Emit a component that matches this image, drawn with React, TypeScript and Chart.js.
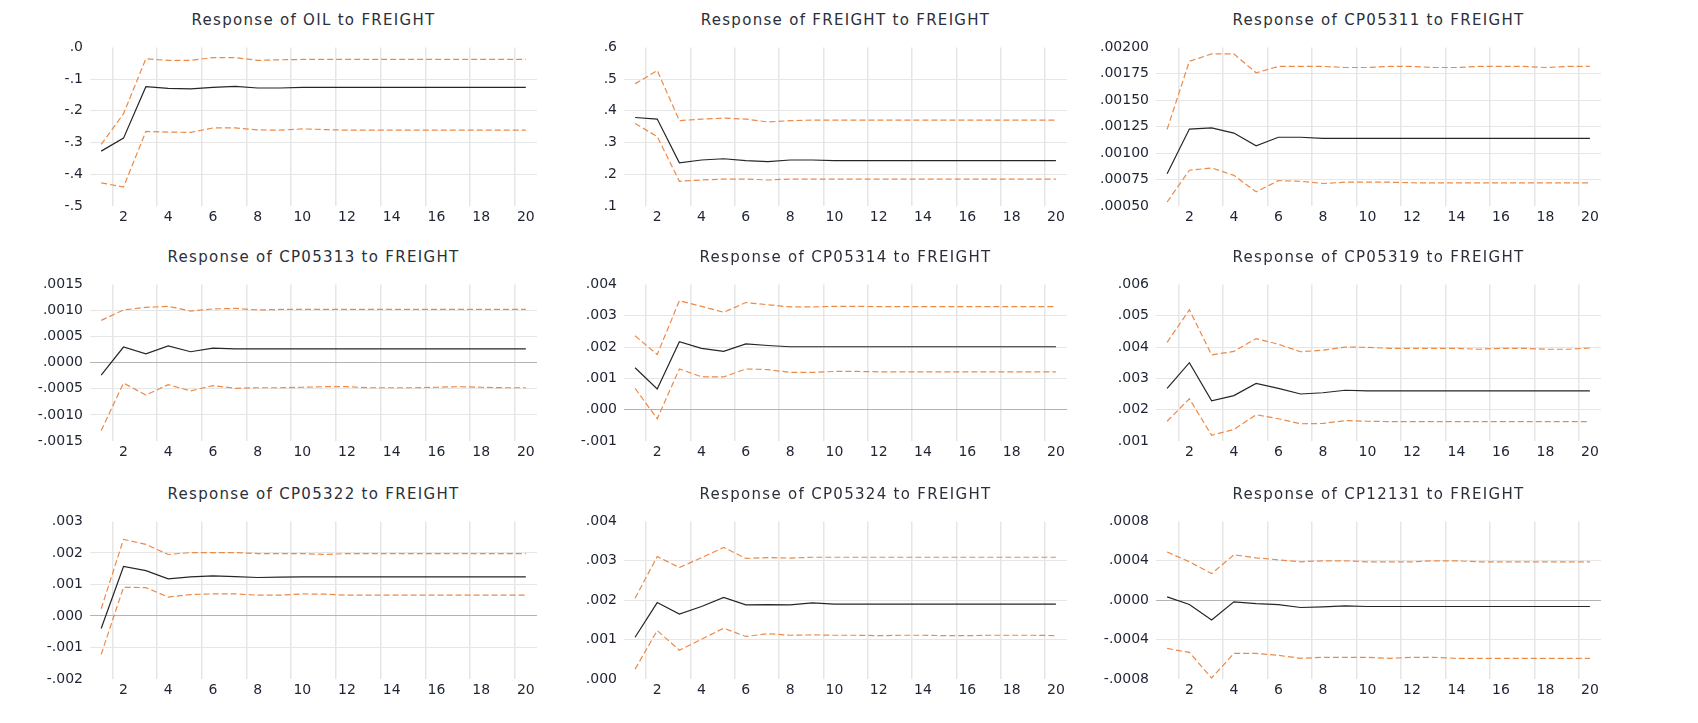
import React, { useEffect, useRef } from 'react';
import { Chart, registerables } from 'chart.js';
Chart.register(...registerables);

// ---------- data ----------
const periods = ['1','2','3','4','5','6','7','8','9','10','11','12','13','14','15','16','17','18','19','20'];

const titles = [
  'Response of OIL to FREIGHT',
  'Response of FREIGHT to FREIGHT',
  'Response of CP05311 to FREIGHT',
  'Response of CP05313 to FREIGHT',
  'Response of CP05314 to FREIGHT',
  'Response of CP05319 to FREIGHT',
  'Response of CP05322 to FREIGHT',
  'Response of CP05324 to FREIGHT',
  'Response of CP12131 to FREIGHT',
];

// y tick labels (top to bottom)
const oilTicks = ['.0', '-.1', '-.2', '-.3', '-.4', '-.5'];
const freightTicks = ['.6', '.5', '.4', '.3', '.2', '.1'];
const cp05311Ticks = ['.00200', '.00175', '.00150', '.00125', '.00100', '.00075', '.00050'];
const cp05313Ticks = ['.0015', '.0010', '.0005', '.0000', '-.0005', '-.0010', '-.0015'];
const cp05314Ticks = ['.004', '.003', '.002', '.001', '.000', '-.001'];
const cp05319Ticks = ['.006', '.005', '.004', '.003', '.002', '.001'];
const cp05322Ticks = ['.003', '.002', '.001', '.000', '-.001', '-.002'];
const cp05324Ticks = ['.004', '.003', '.002', '.001', '.000'];
const cp12131Ticks = ['.0008', '.0004', '.0000', '-.0004', '-.0008'];

// series: response (mid), upper band (up), lower band (lo)
const oilMid = [-0.327, -0.286, -0.124, -0.129, -0.131, -0.126, -0.123, -0.128, -0.128, -0.126, -0.126, -0.126, -0.126, -0.126, -0.126, -0.126, -0.126, -0.126, -0.126, -0.126];
const oilUp = [-0.306, -0.209, -0.036, -0.041, -0.041, -0.032, -0.032, -0.041, -0.039, -0.038, -0.038, -0.038, -0.038, -0.038, -0.038, -0.038, -0.038, -0.038, -0.038, -0.038];
const oilLo = [-0.427, -0.440, -0.265, -0.267, -0.268, -0.254, -0.254, -0.260, -0.261, -0.257, -0.259, -0.261, -0.261, -0.261, -0.261, -0.261, -0.261, -0.261, -0.261, -0.261];

const freightMid = [0.379, 0.374, 0.236, 0.245, 0.249, 0.243, 0.240, 0.245, 0.245, 0.243, 0.243, 0.243, 0.243, 0.243, 0.243, 0.243, 0.243, 0.243, 0.243, 0.243];
const freightUp = [0.485, 0.527, 0.369, 0.374, 0.377, 0.374, 0.365, 0.369, 0.371, 0.371, 0.371, 0.371, 0.371, 0.371, 0.371, 0.371, 0.371, 0.371, 0.371, 0.371];
const freightLo = [0.360, 0.319, 0.178, 0.182, 0.185, 0.185, 0.182, 0.185, 0.185, 0.185, 0.185, 0.185, 0.185, 0.185, 0.185, 0.185, 0.185, 0.185, 0.185, 0.185];

const cp05311Mid = [0.000806, 0.001228, 0.001238, 0.00119, 0.001069, 0.00115, 0.00115, 0.00114, 0.00114, 0.00114, 0.00114, 0.00114, 0.00114, 0.00114, 0.00114, 0.00114, 0.00114, 0.00114, 0.00114, 0.00114];
const cp05311Up = [0.001225, 0.001869, 0.001938, 0.001938, 0.00176, 0.00182, 0.00182, 0.00182, 0.00181, 0.00181, 0.00182, 0.00182, 0.00181, 0.00181, 0.00182, 0.00182, 0.00182, 0.00181, 0.00182, 0.00182];
const cp05311Lo = [0.000538, 0.000838, 0.00086, 0.00079, 0.000634, 0.00074, 0.000734, 0.000713, 0.000725, 0.000725, 0.000725, 0.00072, 0.000718, 0.000718, 0.000718, 0.000718, 0.000718, 0.000718, 0.000718, 0.000718];

const cp05313Mid = [-0.00024, 0.0003, 0.00017, 0.00032, 0.00021, 0.00028, 0.000266, 0.000266, 0.000266, 0.000266, 0.000266, 0.000266, 0.000266, 0.000266, 0.000266, 0.000266, 0.000266, 0.000266, 0.000266, 0.000266];
const cp05313Up = [0.00081, 0.00101, 0.00106, 0.00108, 0.00099, 0.00103, 0.00104, 0.00101, 0.00102, 0.00102, 0.00102, 0.00102, 0.00102, 0.00102, 0.00102, 0.00102, 0.00102, 0.00102, 0.00102, 0.00102];
const cp05313Lo = [-0.0013, -0.00039, -0.00062, -0.00042, -0.00054, -0.00044, -0.00049, -0.00048, -0.00048, -0.00047, -0.00046, -0.00046, -0.00048, -0.00048, -0.00048, -0.00047, -0.00046, -0.00047, -0.00048, -0.00048];

const cp05314Mid = [0.00134, 0.00066, 0.00217, 0.00196, 0.00186, 0.0021, 0.00205, 0.00201, 0.00201, 0.00201, 0.00201, 0.00201, 0.00201, 0.00201, 0.00201, 0.00201, 0.00201, 0.00201, 0.00201, 0.00201];
const cp05314Up = [0.00236, 0.00176, 0.00348, 0.0033, 0.00311, 0.00342, 0.00335, 0.00328, 0.00328, 0.0033, 0.0033, 0.00329, 0.00329, 0.00329, 0.00329, 0.00329, 0.00329, 0.00329, 0.00329, 0.00329];
const cp05314Lo = [0.00068, -0.00029, 0.0013, 0.00105, 0.00105, 0.0013, 0.00128, 0.00119, 0.00119, 0.00122, 0.00122, 0.00121, 0.00121, 0.00121, 0.00121, 0.00121, 0.00121, 0.00121, 0.00121, 0.00121];

const cp05319Mid = [0.00268, 0.0035, 0.00228, 0.00245, 0.00284, 0.00268, 0.0025, 0.00254, 0.00262, 0.0026, 0.0026, 0.0026, 0.0026, 0.0026, 0.0026, 0.0026, 0.0026, 0.0026, 0.0026, 0.0026];
const cp05319Up = [0.00415, 0.00519, 0.00375, 0.00386, 0.00427, 0.00409, 0.00385, 0.0039, 0.004, 0.00399, 0.00396, 0.00396, 0.00396, 0.00396, 0.00393, 0.00396, 0.00396, 0.00393, 0.00393, 0.00397];
const cp05319Lo = [0.00163, 0.00235, 0.00118, 0.00137, 0.00184, 0.00171, 0.00155, 0.00156, 0.00165, 0.00163, 0.00162, 0.00162, 0.00162, 0.00162, 0.00162, 0.00162, 0.00162, 0.00162, 0.00162, 0.00162];

const cp05322Mid = [-0.0004, 0.00157, 0.00144, 0.00118, 0.00124, 0.00127, 0.00125, 0.00122, 0.00123, 0.00124, 0.00124, 0.00124, 0.00124, 0.00124, 0.00124, 0.00124, 0.00124, 0.00124, 0.00124, 0.00124];
const cp05322Up = [0.00023, 0.00243, 0.00227, 0.00195, 0.00201, 0.00201, 0.00201, 0.00198, 0.00198, 0.00198, 0.00195, 0.00198, 0.00198, 0.00198, 0.00198, 0.00198, 0.00198, 0.00198, 0.00198, 0.00198];
const cp05322Lo = [-0.00122, 0.00091, 0.0009, 0.0006, 0.00068, 0.0007, 0.0007, 0.00066, 0.00066, 0.0007, 0.00069, 0.00066, 0.00066, 0.00066, 0.00066, 0.00066, 0.00066, 0.00066, 0.00066, 0.00066];

const cp05324Mid = [0.00106, 0.00194, 0.00165, 0.00184, 0.00207, 0.00188, 0.00189, 0.00188, 0.00193, 0.0019, 0.0019, 0.0019, 0.0019, 0.0019, 0.0019, 0.0019, 0.0019, 0.0019, 0.0019, 0.0019];
const cp05324Up = [0.00205, 0.00311, 0.00283, 0.00308, 0.00334, 0.00306, 0.00308, 0.00307, 0.00309, 0.00309, 0.00309, 0.00309, 0.00309, 0.00309, 0.00309, 0.00309, 0.00309, 0.00309, 0.00309, 0.00309];
const cp05324Lo = [0.00025, 0.00123, 0.00073, 0.00101, 0.00129, 0.00108, 0.00115, 0.00111, 0.00112, 0.00111, 0.00111, 0.0011, 0.00111, 0.00111, 0.0011, 0.0011, 0.00111, 0.00111, 0.00111, 0.0011];

const cp12131Mid = [0.000034, -0.000044, -0.0002, -0.000017, -0.000034, -0.000044, -0.000074, -0.000067, -0.000057, -0.000064, -0.000064, -0.000064, -0.000064, -0.000064, -0.000064, -0.000064, -0.000064, -0.000064, -0.000064, -0.000064];
const cp12131Up = [0.00049, 0.00039, 0.00027, 0.00046, 0.00043, 0.00041, 0.00039, 0.0004, 0.0004, 0.00039, 0.00039, 0.00039, 0.0004, 0.0004, 0.00039, 0.00039, 0.00039, 0.00039, 0.00039, 0.00039];
const cp12131Lo = [-0.00049, -0.00053, -0.00079, -0.00054, -0.00054, -0.00056, -0.00059, -0.00058, -0.00058, -0.00058, -0.00059, -0.00058, -0.00058, -0.00059, -0.00059, -0.00059, -0.00059, -0.00059, -0.00059, -0.00059];

const panels = [
  { title: titles[0], ticks: oilTicks, mid: oilMid, up: oilUp, lo: oilLo },
  { title: titles[1], ticks: freightTicks, mid: freightMid, up: freightUp, lo: freightLo },
  { title: titles[2], ticks: cp05311Ticks, mid: cp05311Mid, up: cp05311Up, lo: cp05311Lo },
  { title: titles[3], ticks: cp05313Ticks, mid: cp05313Mid, up: cp05313Up, lo: cp05313Lo },
  { title: titles[4], ticks: cp05314Ticks, mid: cp05314Mid, up: cp05314Up, lo: cp05314Lo },
  { title: titles[5], ticks: cp05319Ticks, mid: cp05319Mid, up: cp05319Up, lo: cp05319Lo },
  { title: titles[6], ticks: cp05322Ticks, mid: cp05322Mid, up: cp05322Up, lo: cp05322Lo },
  { title: titles[7], ticks: cp05324Ticks, mid: cp05324Mid, up: cp05324Up, lo: cp05324Lo },
  { title: titles[8], ticks: cp12131Ticks, mid: cp12131Mid, up: cp12131Up, lo: cp12131Lo },
];

// ---------- layout / style ----------
const COLS = [ { left: 90, w: 447 }, { left: 624, w: 443 }, { left: 1156, w: 445 } ];
const ROWS = [ { top: 46, h: 160 }, { top: 283, h: 158 }, { top: 520, h: 159 } ];
const AXIS_W = 90;
const PAD_TOP = 14;
const PAD_RIGHT = 12;
const BOTTOM_SPACE = 30;
const FONT = 'DejaVu Sans';
const TICK_COLOR = '#1e2433';
const TITLE_COLOR = '#2a2f3a';
const GRID = '#e6e6e6';
const ZERO = '#b3b3b3';
const ORANGE = '#EC8A48';
const BLACK = '#262626';
const CLEAR = 'rgba(0,0,0,0)';

const toVal = (s: string) => parseFloat(s.replace('.', '0.'));

function Panel({ p, col, row }: any) {
  const ref = useRef<HTMLCanvasElement>(null);
  const W = AXIS_W + col.w + PAD_RIGHT;
  const H = PAD_TOP + row.h + BOTTOM_SPACE;
  useEffect(() => {
    const vals = p.ticks.map(toVal);
    const sorted = [...vals].sort((a: number, b: number) => a - b);
    const labelFor = (v: number) => {
      let best = 0, bd = Infinity;
      vals.forEach((x: number, i: number) => { const d = Math.abs(x - v); if (d < bd) { bd = d; best = i; } });
      return p.ticks[best];
    };
    const chart = new Chart(ref.current as HTMLCanvasElement, {
      type: 'line',
      data: {
        labels: periods,
        datasets: [
          { data: p.mid, borderColor: BLACK, borderWidth: 1.2 },
          { data: p.up, borderColor: ORANGE, borderWidth: 1.2, borderDash: [6, 3] },
          { data: p.lo, borderColor: ORANGE, borderWidth: 1.2, borderDash: [6, 3] },
        ],
      },
      options: {
        responsive: false,
        animation: false,
        devicePixelRatio: 1,
        layout: { padding: { left: 0, top: PAD_TOP, right: PAD_RIGHT, bottom: BOTTOM_SPACE - 20 } },
        elements: { point: { radius: 0 }, line: { tension: 0 } },
        plugins: { legend: { display: false }, tooltip: { enabled: false }, title: { display: false } },
        scales: {
          x: {
            type: 'category',
            offset: true,
            border: { display: false },
            grid: {
              offset: true,
              drawTicks: false,
              lineWidth: 1.5,
              color: (c: any) => (c.index % 2 === 1 && c.index < 20 ? GRID : CLEAR),
            },
            ticks: {
              autoSkip: false,
              maxRotation: 0,
              padding: 3,
              color: TICK_COLOR,
              font: { family: FONT, size: 14 },
              callback: (_v: any, i: number) => ((i + 1) % 2 === 0 ? periods[i] : ''),
            },
            afterFit: (s: any) => { s.height = 20; },
          },
          y: {
            type: 'linear',
            min: sorted[0],
            max: sorted[sorted.length - 1],
            border: { display: false },
            afterBuildTicks: (s: any) => { s.ticks = sorted.map((v: number) => ({ value: v })); },
            grid: {
              drawTicks: false,
              lineWidth: 1,
              color: (c: any) => {
                const n = c.scale.ticks.length;
                if (c.index === 0 || c.index === n - 1) return CLEAR;
                return Math.abs(c.tick.value) < 1e-12 ? ZERO : GRID;
              },
            },
            ticks: {
              padding: 7,
              color: TICK_COLOR,
              font: { family: FONT, size: 14 },
              callback: (v: any) => labelFor(Number(v)),
            },
            afterFit: (s: any) => { s.width = AXIS_W; },
          },
        },
      },
    });
    return () => chart.destroy();
  }, [p]);
  return (
    <>
      <div
        style={{
          position: 'absolute',
          left: col.left,
          top: row.top - 26 - 10,
          width: col.w,
          height: 20,
          lineHeight: '20px',
          textAlign: 'center',
          fontFamily: FONT,
          fontSize: 15,
          letterSpacing: '1.3px',
          color: TITLE_COLOR,
          whiteSpace: 'nowrap',
        }}
      >
        {p.title}
      </div>
      <canvas
        ref={ref}
        width={W}
        height={H}
        style={{ position: 'absolute', left: col.left - AXIS_W, top: row.top - PAD_TOP, width: W, height: H }}
      />
    </>
  );
}

export default function App() {
  return (
    <div style={{ position: 'absolute', left: 0, top: 0, width: 1698, height: 723, background: '#fff', overflow: 'hidden' }}>
      {panels.map((p, i) => (
        <Panel key={i} p={p} col={COLS[i % 3]} row={ROWS[Math.floor(i / 3)]} />
      ))}
    </div>
  );
}
